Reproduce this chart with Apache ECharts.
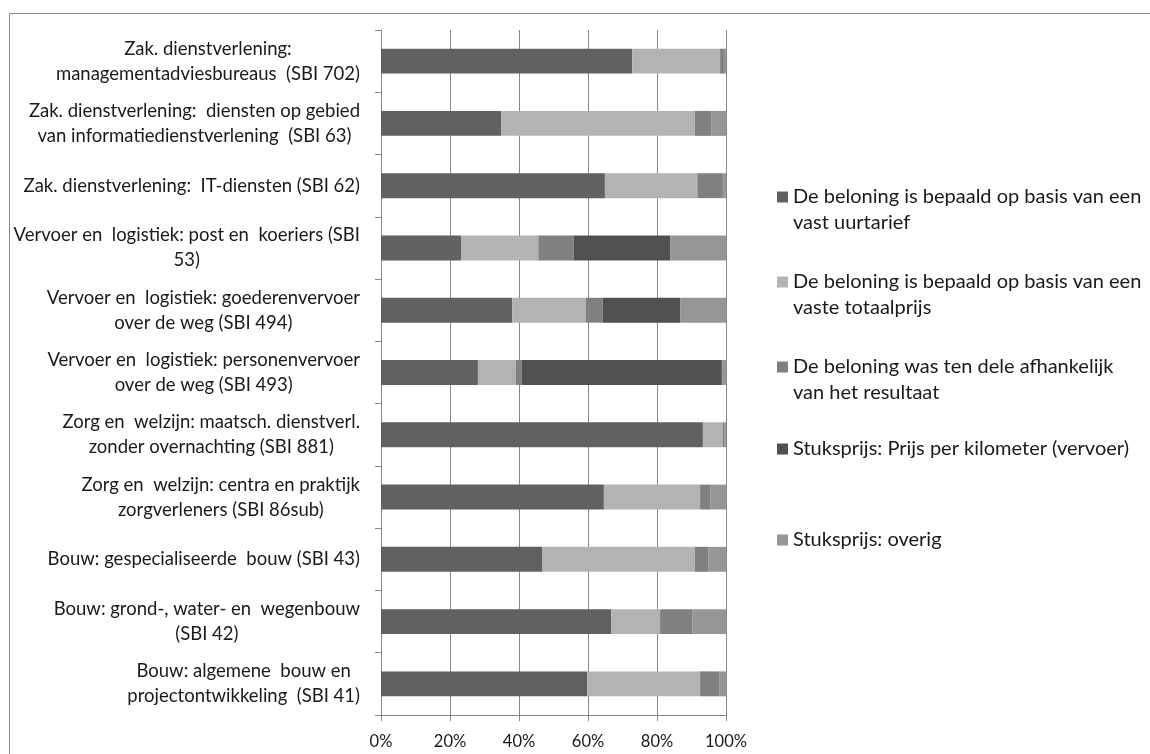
<!DOCTYPE html>
<html>
<head>
<meta charset="utf-8">
<script src="https://cdn.jsdelivr.net/npm/echarts@6/dist/echarts.min.js"></script>
<style>
html, body { margin: 0; padding: 0; background: #fff; }
#chart { width: 1150px; height: 754px; }
</style>
</head>
<body>
<div id="chart"></div>
<script>
// categories, top to bottom
let sectors = [
	'Zak. dienstverlening:\nmanagementadviesbureaus  (SBI 702)',
	'Zak. dienstverlening:  diensten op gebied\nvan informatiedienstverlening  (SBI 63)',
	'Zak. dienstverlening:  IT-diensten (SBI 62)',
	'Vervoer en  logistiek: post en  koeriers (SBI\n53)',
	'Vervoer en  logistiek: goederenvervoer\nover de weg (SBI 494)',
	'Vervoer en  logistiek: personenvervoer\nover de weg (SBI 493)',
	'Zorg en  welzijn: maatsch. dienstverl.\nzonder overnachting (SBI 881)',
	'Zorg en  welzijn: centra en praktijk\nzorgverleners (SBI 86sub)',
	'Bouw: gespecialiseerde  bouw (SBI 43)',
	'Bouw: grond-, water- en  wegenbouw\n(SBI 42)',
	'Bouw: algemene  bouw en\nprojectontwikkeling  (SBI 41)',
];

// shares in percent, same order as sectors
let vastUurtarief = [72.8, 34.8, 64.9, 23.2, 38.0, 28.1, 93.3, 64.6, 46.8, 66.7, 59.8];
let vasteTotaalprijs = [25.5, 56.2, 26.8, 22.4, 21.3, 11.0, 5.8, 27.9, 44.2, 14.2, 32.7];
let deelsResultaat = [1.1, 4.7, 7.4, 10.3, 5.0, 1.7, 0.5, 2.9, 3.6, 9.3, 5.5];
let prijsPerKm = [0, 0, 0, 27.9, 22.5, 58.0, 0, 0, 0.3, 0, 0];
let stuksOverig = [0.6, 4.3, 0.9, 16.2, 13.2, 1.2, 0.4, 4.6, 5.1, 9.8, 2.0];

let seriesNames = [
	'De beloning is bepaald op basis van een vast uurtarief',
	'De beloning is bepaald op basis van een vaste totaalprijs',
	'De beloning was ten dele afhankelijk van het resultaat',
	'Stuksprijs: Prijs per kilometer (vervoer)',
	'Stuksprijs: overig',
];
let legendLabels = [
	'De beloning is bepaald op basis van een\nvast uurtarief',
	'De beloning is bepaald op basis van een\nvaste totaalprijs',
	'De beloning was ten dele afhankelijk\nvan het resultaat',
	'Stuksprijs: Prijs per kilometer (vervoer)',
	'Stuksprijs: overig',
];
let seriesData = [vastUurtarief, vasteTotaalprijs, deelsResultaat, prijsPerKm, stuksOverig];
let colors = ['#616161', '#b3b3b3', '#808080', '#505050', '#969696'];
let xTicks = [0, 20, 40, 60, 80, 100];

let font = 'Lato, "Open Sans", sans-serif';
let lineH = 25;
let legendLineH = 26;
let markerCenters = [197, 282, 367, 449, 540];

let chart = echarts.init(document.getElementById('chart'));

// one legend per entry so the entries sit on the same rows as in the original;
// a blank first line keeps the marker level with the first text line
let legends = seriesNames.map((name, i) => {
	let lines = legendLabels[i].split('\n').length;
	let label = lines > 1 ? '\n' + legendLabels[i] : legendLabels[i];
	let h = (2 * lines - 1) * legendLineH;
	return {
		data: [name],
		left: 777,
		top: markerCenters[i] - h / 2,
		padding: 0,
		icon: 'rect',
		itemWidth: 11,
		itemHeight: 11,
		itemGap: 0,
		selectedMode: false,
		formatter: () => label,
		textStyle: {
			fontFamily: font,
			fontSize: 20,
			color: '#1a1a1a',
			lineHeight: legendLineH,
		},
	};
});

chart.setOption({
	animation: false,
	color: colors,
	graphic: [{
		type: 'rect',
		shape: {x: 9.5, y: 13.5, width: 1300, height: 900},
		style: {fill: 'none', stroke: '#8a8a8a', lineWidth: 1},
		silent: true,
	}],
	legend: legends,
	grid: {
		left: 381,
		right: 424,
		top: 30,
		bottom: 39,
	},
	xAxis: {
		type: 'value',
		min: xTicks[0],
		max: xTicks[xTicks.length - 1],
		interval: 20,
		axisLine: {show: true, lineStyle: {color: '#868686'}},
		axisTick: {show: true, length: 6, lineStyle: {color: '#868686'}},
		splitLine: {show: true, lineStyle: {color: '#868686', width: 1}},
		axisLabel: {
			formatter: '{value}%',
			fontFamily: font,
			fontSize: 16.5,
			color: '#1a1a1a',
			margin: 18,
		},
	},
	yAxis: {
		type: 'category',
		inverse: true,
		data: sectors,
		axisLine: {show: true, lineStyle: {color: '#868686'}},
		axisTick: {show: true, length: 6, lineStyle: {color: '#868686'}},
		axisLabel: {
			margin: 21,
			interval: 0,
			formatter: (v) => v.split('\n').map((s) => '{c|' + s + '}').join('\n'),
			rich: {
				c: {
					align: 'center',
					fontFamily: font,
					fontSize: 18.5,
					lineHeight: lineH,
					color: '#1a1a1a',
				},
			},
		},
	},
	series: seriesNames.map((name, i) => ({
		name,
		type: 'bar',
		stack: 'total',
		barWidth: '40%',
		data: seriesData[i],
		itemStyle: {color: colors[i]},
	})),
});
</script>
</body>
</html>
